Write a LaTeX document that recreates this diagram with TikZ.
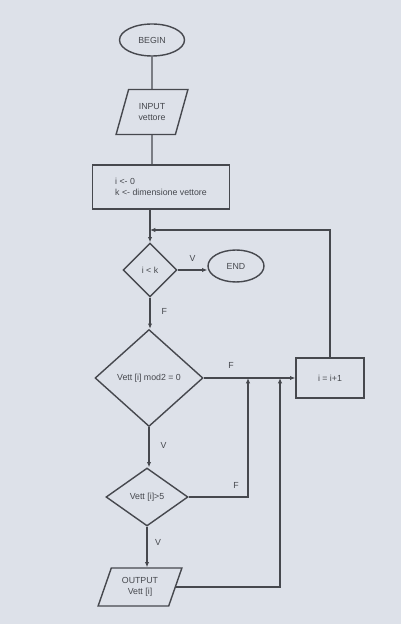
\documentclass[tikz,border=0pt]{standalone}
\usepackage{fontspec}
\setmainfont{Liberation Sans}
\usepackage{xcolor}
\usetikzlibrary{arrows.meta, shapes.geometric}

\definecolor{paper}{RGB}{221,225,233}
\definecolor{ink}{RGB}{70,72,78}

\begin{document}
\begin{tikzpicture}[
  x=0.02cm, y=-0.02cm,
  every node/.style = {align=center, font=\fontsize{5}{6}\selectfont, text=ink},
  line/.style = {draw=ink, line width=0.6pt},
  arrow/.style = {line, -{Latex[length=3pt, width=2.5pt]}},
  terminal/.style = {draw=ink, line width=0.8pt, ellipse},
  io/.style = {draw=ink, line width=0.8pt, trapezium, trapezium left angle=70,
    trapezium right angle=110, trapezium stretches=true},
  process/.style = {draw=ink, line width=0.8pt, rectangle},
  decision/.style = {draw=ink, line width=0.8pt, diamond, inner sep=0pt}
]

% paper
\fill[paper] (0,0) rectangle (401,624);

\node[terminal, minimum width=1.3cm, minimum height=0.64cm] (begin) at (152,40) {BEGIN};
\node[io, minimum width=1.44cm, minimum height=0.9cm] (input) at (152,112) {INPUT\\vettore};
\node[process, minimum width=2.74cm, minimum height=0.88cm, align=left] (init) at (161,187)
  {i <- 0\\k <- dimensione vettore};
\node[decision, minimum width=1.08cm, minimum height=1.08cm] (cond1) at (150,270) {i < k};
\node[terminal, minimum width=1.12cm, minimum height=0.64cm] (end) at (236,266) {END};
\node[decision, minimum width=2.16cm, minimum height=1.94cm] (cond2) at (149,378) {Vett [i] mod2 = 0};
\node[process, minimum width=1.36cm, minimum height=0.8cm] (incr) at (330,378) {i = i+1};
\node[decision, minimum width=1.64cm, minimum height=1.16cm] (cond3) at (147,497) {Vett [i]>5};
\node[io, minimum width=1.68cm, minimum height=0.76cm] (output) at (140,587) {OUTPUT\\Vett [i]};

\coordinate (join) at (150,230);
\coordinate (j1) at (248,378);
\coordinate (j2) at (280,378);

\draw[line] (begin) -- (input);
\draw[line] (input) -- (input |- init.north);
\draw[arrow] (init.south -| cond1) -- (cond1);
\draw[arrow] (incr.north) |- (join); % back to the test
\draw[arrow] (cond1.east) -- node[above=1pt] {V} (cond1.east -| end.west);
\draw[arrow] (cond1.south) -- node[right=3pt, pos=0.45] {F} (cond1.south |- cond2.north);
\draw[arrow] (cond2.east) -- node[above=2pt, pos=0.3] {F} (incr.west);
\draw[arrow] (cond2.south) -- node[right=3pt, pos=0.45] {V} (cond2.south |- cond3.north);
\draw[arrow] (cond3.east) -| node[above=1pt, pos=0.4] {F} (j1);
\draw[arrow] (cond3.south) -- node[right=1pt, pos=0.4] {V} (cond3.south |- output.north);
\draw[arrow] (output.east) -| (j2);

\end{tikzpicture}
\end{document}
